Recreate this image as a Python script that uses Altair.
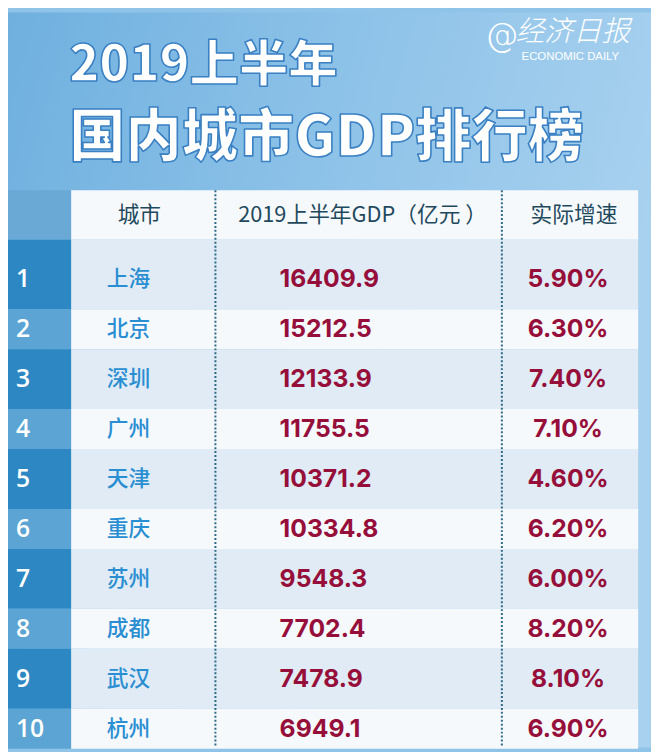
import altair as alt
import pandas as pd

# ---------------- data ----------------
ranks = [1, 2, 3, 4, 5, 6, 7, 8, 9, 10]
cities = ["上海", "北京", "深圳", "广州", "天津", "重庆", "苏州", "成都", "武汉", "杭州"]
gdp = [16409.9, 15212.5, 12133.9, 11755.5, 10371.2, 10334.8, 9548.3, 7702.4, 7478.9, 6949.1]
growth = [5.90, 6.30, 7.40, 7.10, 4.60, 6.20, 6.00, 8.20, 8.10, 6.90]
headers = ["城市", "2019上半年GDP（亿元 ）", "实际增速"]
title_lines = ["2019上半年", "国内城市GDP排行榜"]
logo_cn = "经济日报"
logo_en = "ECONOMIC DAILY"

df = pd.DataFrame({"rank": ranks, "city": cities, "gdp": gdp, "growth": growth})

W, H = 651, 744
# y scale in rank units (row 1 .. row 10)
ys = alt.Scale(domain=[10.375, -4.34], nice=False, zero=False)

CJK = "Noto Sans CJK SC"
NUM = "Inter"
RED = "#960f3a"
CITY = "#2a8ed2"
HEAD = "#1f4a5e"

def yq(field):
    return alt.Y(field, type="quantitative", scale=ys, axis=None)

def one(t):
    return alt.Chart(pd.DataFrame({"t": [t]}))

base = alt.Chart(df)

# background
bg = one("").mark_rect(
    color=alt.Gradient(
        gradient="linear", x1=0, y1=0, x2=1, y2=0.3,
        stops=[alt.GradientStop(color="#6fb0df", offset=0),
               alt.GradientStop(color="#8dc2e8", offset=0.5),
               alt.GradientStop(color="#a8d1ef", offset=1)]
    )
).encode(x=alt.value(0), x2=alt.value(W), y=alt.value(0), y2=alt.value(H))

# header row cells
head_rank = one("").mark_rect(color="#6aa9d5").encode(
    x=alt.value(-8), x2=alt.value(64), y=alt.value(180), y2=alt.value(230))
head_body = one("").mark_rect(color="#f6f9fb").encode(
    x=alt.value(64), x2=alt.value(638), y=alt.value(180), y2=alt.value(230))

rows = base.transform_calculate(
    half="datum.rank % 2 == 1 ? 0.6 : 0.4",
    top="datum.rank == 1 ? 0.209 : datum.rank - datum.half",
    bot="datum.rank + datum.half",
    odd="datum.rank % 2 == 1 ? 'odd' : 'even'",
)

rank_cells = rows.mark_rect().encode(
    x=alt.value(-8), x2=alt.value(64),
    y=yq("top"), y2=alt.Y2("bot"),
    color=alt.Color("odd:N", scale=alt.Scale(domain=["odd", "even"], range=["#2d87c3", "#5ba4d3"]), legend=None),
)
body_cells = rows.mark_rect().encode(
    x=alt.value(64), x2=alt.value(638),
    y=yq("top"), y2=alt.Y2("bot"),
    color=alt.Color("odd:N", scale=alt.Scale(domain=["odd", "even"], range=["#e0ebf5", "#f6f9fc"]), legend=None),
)

# dotted column separators
sep1 = one("").mark_rule(color="#2d6a86", strokeWidth=2, strokeDash=[2, 2]).encode(
    x=alt.value(210), y=alt.value(180), y2=alt.value(H))
sep2 = one("").mark_rule(color="#2d6a86", strokeWidth=2, strokeDash=[2, 2]).encode(
    x=alt.value(500), y=alt.value(180), y2=alt.value(H))

# header texts
def head(t, xc):
    return one(t).mark_text(
        font=CJK, fontSize=22, fontWeight=400, color=HEAD, baseline="middle", align="center"
    ).encode(x=alt.value(xc), y=alt.value(205), text="t:N")

h1 = head(headers[0], 133)
h2 = head(headers[1], 359)
h3 = head(headers[2], 573)

rank_text = base.mark_text(
    font="Open Sans", fontSize=25, fontWeight=600, color="white", align="left", baseline="middle"
).encode(x=alt.value(8), y=yq("rank"), text="rank:N")

city_text = base.mark_text(
    font=CJK, fontSize=22, fontWeight=500, color=CITY, align="center", baseline="middle"
).encode(x=alt.value(122), y=yq("rank"), text="city:N")

gdp_text = base.mark_text(
    font=NUM, fontSize=25, fontWeight=700, color=RED, align="left", baseline="middle"
).encode(x=alt.value(275), y=yq("rank"), text=alt.Text("gdp:Q", format=".1f"))

growth_text = base.transform_calculate(
    lbl="format(datum.growth, '.2f') + '%'"
).mark_text(
    font=NUM, fontSize=25, fontWeight=700, color=RED, align="center", baseline="middle"
).encode(x=alt.value(567), y=yq("rank"), text="lbl:N")

# titles (white with a blue edge)
def title_layer(line, size, ycen):
    return one(line).mark_text(
        font=CJK, fontSize=size, fontWeight=900, align="left", baseline="middle",
        color="white", stroke="#3a80c2", strokeWidth=1.6, strokeJoin="round"
    ).encode(x=alt.value(62), y=alt.value(ycen), text="t:N")

t1 = title_layer(title_lines[0], 50, 54)
t2 = title_layer(title_lines[1], 57, 128)

logo_at = one("@").mark_text(
    font="DejaVu Sans", fontSize=34, fontWeight=300, color="white", align="left", baseline="middle"
).encode(x=alt.value(483), y=alt.value(24), text="t:N")
logo_c = one(logo_cn).mark_text(
    font=CJK, fontSize=29, fontWeight=300, color="white", align="left", baseline="middle",
    fontStyle="italic"
).encode(x=alt.value(514), y=alt.value(20), text="t:N")
logo_e = one(logo_en).mark_text(
    font="Liberation Sans", fontSize=11.5, color="white", align="left", baseline="middle"
).encode(x=alt.value(520), y=alt.value(45), text="t:N")

chart = alt.layer(
    bg, head_rank, head_body, rank_cells, body_cells, sep1, sep2,
    h1, h2, h3, rank_text, city_text, gdp_text, growth_text,
    t1, t2, logo_at, logo_c, logo_e,
).properties(
    width=W, height=H, padding=0, autosize=alt.AutoSizeParams(type="none"),
    background="#8fc3e8",
).resolve_scale(color="independent").configure_view(strokeWidth=0)

chart.save("out.html", embed_options={"renderer": "svg", "actions": False})
